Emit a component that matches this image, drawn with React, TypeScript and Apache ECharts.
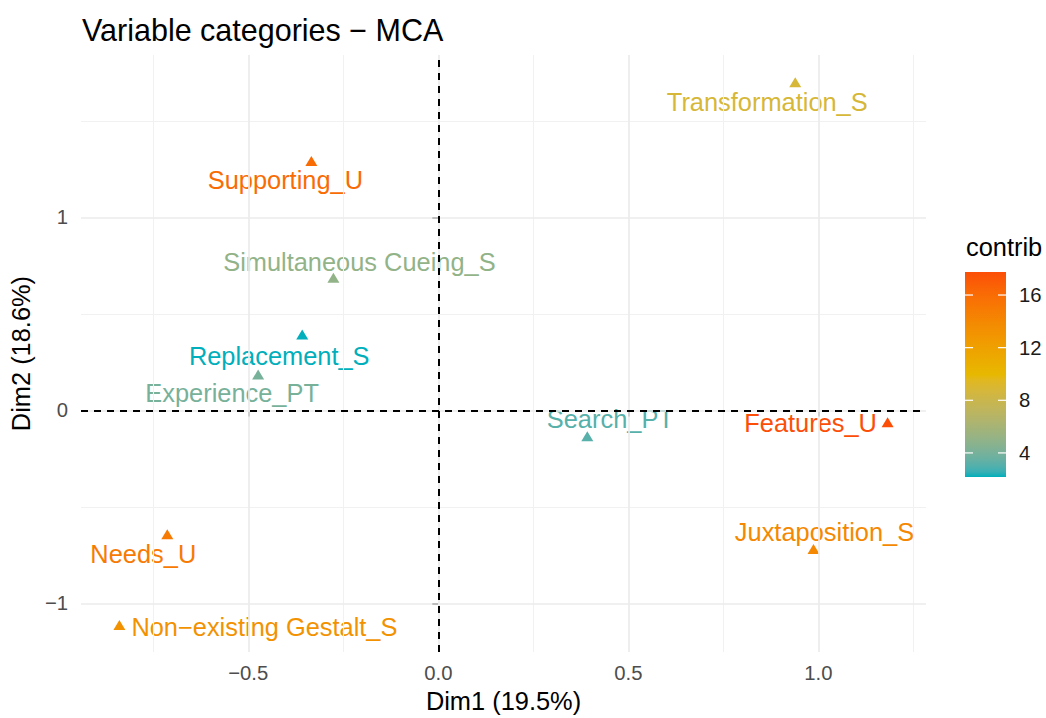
import React, { useEffect, useRef } from "react";
import * as echarts from "echarts";

// ---- data ----
const categories = [
  "Transformation_S",
  "Supporting_U",
  "Simultaneous Cueing_S",
  "Replacement_S",
  "Experience_PT",
  "Search_PT",
  "Features_U",
  "Juxtaposition_S",
  "Needs_U",
  "Non\u2212existing Gestalt_S",
];
const dim1 = [0.939, -0.334, -0.276, -0.358, -0.474, 0.392, 1.182, 0.987, -0.713, -0.839];
const dim2 = [1.7, 1.292, 0.687, 0.393, 0.186, -0.134, -0.062, -0.718, -0.641, -1.111];
const contrib = [8.8, 16.0, 5.0, 2.17, 4.0, 3.1, 17.75, 14.0, 15.0, 13.2];

const xMajor = [-0.5, 0, 0.5, 1];
const xMinor = [-0.75, -0.25, 0.25, 0.75, 1.25];
const yMajor = [-1, 0, 1];
const yMinor = [-0.5, 0.5, 1.5];
const legendTicks = [4, 8, 12, 16];
const gradientCols = ["#00AFBB", "#E7B800", "#FC4E07"];

const TITLE = "Variable categories \u2212 MCA";
const X_NAME = "Dim1 (19.5%)";
const Y_NAME = "Dim2 (18.6%)";
const LEGEND_TITLE = "contrib";

// ---- layout (label placement like ggrepel) ----
const labelOffset: Record<string, [number, number]> = {
  "Transformation_S": [-28, 20],
  "Supporting_U": [-26, 19],
  "Simultaneous Cueing_S": [26, -16],
  "Replacement_S": [-23, 21],
  "Experience_PT": [-26, 19],
  "Search_PT": [23, -17],
  "Features_U": [-77, 1],
  "Juxtaposition_S": [11, -17],
  "Needs_U": [-24, 20],
  "Non\u2212existing Gestalt_S": [145, 2],
};

const FONT = "'Liberation Sans', Arial, Helvetica, sans-serif";

// ---- Lab colour interpolation (as ggplot's gradientn) ----
function hexToRgb(h: string) {
  const n = parseInt(h.slice(1), 16);
  return [(n >> 16) & 255, (n >> 8) & 255, n & 255];
}
function toLab(hex: string) {
  const lin = hexToRgb(hex).map((c) => {
    const v = c / 255;
    return v <= 0.04045 ? v / 12.92 : Math.pow((v + 0.055) / 1.055, 2.4);
  });
  const [r, g, b] = lin;
  const X = (0.4124564 * r + 0.3575761 * g + 0.1804375 * b) / 0.95047;
  const Y = 0.2126729 * r + 0.7151522 * g + 0.072175 * b;
  const Z = (0.0193339 * r + 0.119192 * g + 0.9503041 * b) / 1.08883;
  const f = (t: number) => (t > 0.008856 ? Math.cbrt(t) : 7.787 * t + 16 / 116);
  const fx = f(X), fy = f(Y), fz = f(Z);
  return [116 * fy - 16, 500 * (fx - fy), 200 * (fy - fz)];
}
function fromLab([L, a, bb]: number[]) {
  const fy = (L + 16) / 116;
  const fx = fy + a / 500;
  const fz = fy - bb / 200;
  const inv = (t: number) => (t * t * t > 0.008856 ? t * t * t : (t - 16 / 116) / 7.787);
  const X = 0.95047 * inv(fx), Y = inv(fy), Z = 1.08883 * inv(fz);
  const r = 3.2404542 * X - 1.5371385 * Y - 0.4985314 * Z;
  const g = -0.969266 * X + 1.8760108 * Y + 0.041556 * Z;
  const b = 0.0556434 * X - 0.2040259 * Y + 1.0572252 * Z;
  const gam = (c: number) => {
    const v = c <= 0.0031308 ? 12.92 * c : 1.055 * Math.pow(c, 1 / 2.4) - 0.055;
    return Math.max(0, Math.min(255, Math.round(v * 255)));
  };
  return `rgb(${gam(r)},${gam(g)},${gam(b)})`;
}
function labAt(t: number) {
  const labs = gradientCols.map(toLab);
  const tt = Math.max(0, Math.min(1, t));
  const seg = Math.min(labs.length - 2, Math.floor(tt * (labs.length - 1)));
  const lt = tt * (labs.length - 1) - seg;
  const A = labs[seg], B = labs[seg + 1];
  return fromLab([0, 1, 2].map((k) => A[k] + (B[k] - A[k]) * lt));
}
const NSTOPS = 40;
const stops = Array.from({ length: NSTOPS + 1 }, (_, i) => labAt(i / NSTOPS));

export default function App() {
  const ref = useRef<HTMLDivElement>(null);
  useEffect(() => {
    if (!ref.current) return;
    const chart = echarts.init(ref.current, null, { renderer: "svg" });
    const cmin = Math.min(...contrib);
    const cmax = Math.max(...contrib);
    const colorOf = (v: number) => labAt((v - cmin) / (cmax - cmin));

    const gridLeft = 81, gridRight = 120, gridTop = 55, gridBottom = 65;

    // legend geometry
    const barX = 965, barW = 41, barTop = 272, barH = 205;
    const vy = (v: number) => barTop + barH - ((v - cmin) / (cmax - cmin)) * barH;

    const legendGraphics: any[] = [
      {
        type: "text",
        left: 966,
        top: 234,
        style: { text: LEGEND_TITLE, fontSize: 25.4, fontFamily: FONT, fill: "#000" },
      },
      {
        type: "rect",
        shape: { x: barX, y: barTop, width: barW, height: barH },
        style: {
          fill: new echarts.graphic.LinearGradient(
            0, 1, 0, 0,
            stops.map((c, i) => ({ offset: i / NSTOPS, color: c }))
          ),
        },
      },
    ];
    legendTicks.forEach((v) => {
      const y = vy(v);
      legendGraphics.push(
        { type: "line", shape: { x1: barX, y1: y, x2: barX + 8, y2: y }, style: { stroke: "#fff", lineWidth: 1.2 } },
        { type: "line", shape: { x1: barX + barW - 8, y1: y, x2: barX + barW, y2: y }, style: { stroke: "#fff", lineWidth: 1.2 } },
        {
          type: "text",
          x: 1019,
          y,
          style: { text: String(v), fontSize: 20.3, fontFamily: FONT, fill: "#1a1a1a", verticalAlign: "middle", align: "left" },
        }
      );
    });

    const gridLines = [
      ...xMinor.map((v) => ({ xAxis: v, lineStyle: { color: "#F1F1F1", width: 1.1, type: "solid" } })),
      ...yMinor.map((v) => ({ yAxis: v, lineStyle: { color: "#F1F1F1", width: 1.1, type: "solid" } })),
      ...xMajor.map((v) => ({ xAxis: v, lineStyle: { color: "#EBEBEB", width: 1.7, type: "solid" } })),
      ...yMajor.map((v) => ({ yAxis: v, lineStyle: { color: "#EBEBEB", width: 1.7, type: "solid" } })),
    ];

    const option: any = {
      animation: false,
      backgroundColor: "#fff",
      textStyle: { fontFamily: FONT },
      graphic: [
        {
          type: "text",
          left: 82,
          top: 14,
          style: { text: TITLE, fontSize: 30.5, fontFamily: FONT, fill: "#000" },
        },
        ...legendGraphics,
      ],
      grid: { left: gridLeft, right: gridRight, top: gridTop, bottom: gridBottom },
      xAxis: {
        type: "value",
        min: -0.94,
        max: 1.283,
        name: X_NAME,
        nameLocation: "middle",
        nameGap: 34,
        nameTextStyle: { fontSize: 25.4, color: "#000", fontFamily: FONT },
        axisLine: { show: false },
        splitLine: { show: false },
        axisTick: { show: true, customValues: xMajor, length: 6, lineStyle: { color: "#333", width: 2 } },
        axisLabel: {
          customValues: xMajor,
          margin: 11,
          fontSize: 20.3,
          color: "#4D4D4D",
          fontFamily: FONT,
          formatter: (v: number) => v.toFixed(1).replace("-", "\u2212"),
        },
      },
      yAxis: {
        type: "value",
        min: -1.252,
        max: 1.841,
        name: Y_NAME,
        nameLocation: "middle",
        nameGap: 38,
        nameTextStyle: { fontSize: 25.4, color: "#000", fontFamily: FONT },
        axisLine: { show: false },
        splitLine: { show: false },
        axisTick: { show: true, customValues: yMajor, length: 6, lineStyle: { color: "#333", width: 2 } },
        axisLabel: {
          customValues: yMajor,
          margin: 13,
          fontSize: 20.3,
          color: "#4D4D4D",
          fontFamily: FONT,
          formatter: (v: number) => String(v).replace("-", "\u2212"),
        },
      },
      series: [
        {
          type: "scatter",
          data: [],
          z: 1,
          silent: true,
          markLine: {
            silent: true,
            symbol: "none",
            label: { show: false },
            animation: false,
            data: gridLines,
          },
        },
        {
          type: "scatter",
          data: [],
          z: 2,
          silent: true,
          markLine: {
            silent: true,
            symbol: "none",
            label: { show: false },
            animation: false,
            lineStyle: { color: "#000", width: 2, type: [7, 6] },
            data: [{ xAxis: 0 }, { yAxis: 0 }],
          },
        },
        {
          type: "scatter",
          z: 3,
          symbol: "triangle",
          symbolSize: [12, 10],
          data: categories.map((n, i) => {
            const col = colorOf(contrib[i]);
            return {
              name: n,
              value: [dim1[i], dim2[i], contrib[i]],
              itemStyle: { color: col, opacity: 1 },
              label: { offset: labelOffset[n], color: col },
            };
          }),
          label: {
            show: true,
            position: "inside",
            formatter: "{b}",
            fontSize: 25.4,
            fontFamily: FONT,
            align: "center",
            verticalAlign: "middle",
            textBorderWidth: 0,
          },
        },
      ],
    };
    chart.setOption(option);
    return () => chart.dispose();
  }, []);
  return (
    <div
      ref={ref}
      style={{ position: "fixed", left: 0, top: 0, width: 1046, height: 718, background: "#fff" }}
    />
  );
}
